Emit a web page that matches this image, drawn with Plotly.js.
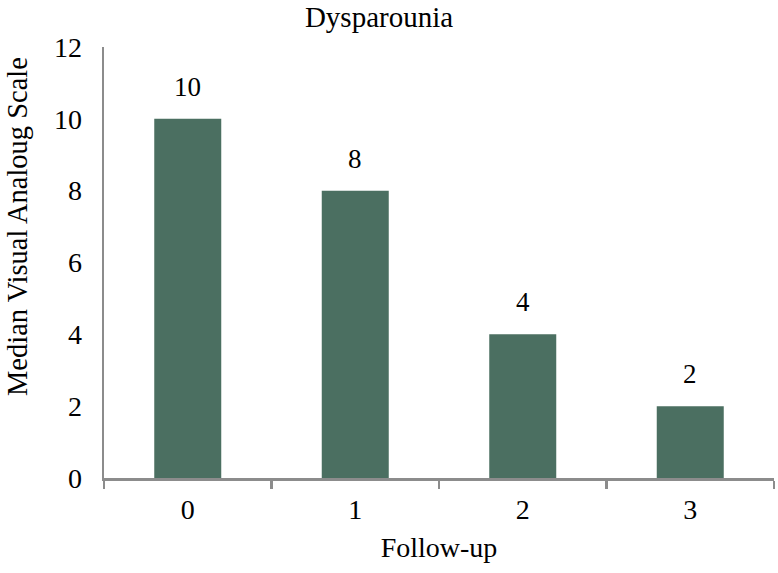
<!DOCTYPE html>
<html>
<head>
<meta charset="utf-8">
<script src="https://cdn.plot.ly/plotly-3.0.1.min.js"></script>
<style>html,body{margin:0;padding:0;background:#fff}#chart{width:778px;height:573px}</style>
</head>
<body>
<div id="chart"></div>
<script>
const categories = ["0", "1", "2", "3"];
const values = [10, 8, 4, 2];
const yTicks = [0, 2, 4, 6, 8, 10, 12];
const chartTitle = "Dysparounia";
const xTitle = "Follow-up";
const yTitle = "Median Visual Analoug Scale";

const font = "Liberation Serif";
const W = 778, H = 573;
const M = {l: 104, r: 4, t: 47, b: 95};
const pw = W - M.l - M.r, ph = H - M.t - M.b;

const trace = {
  type: "bar",
  x: categories,
  y: values,
  width: 0.4,
  marker: {color: "#4b6f61", line: {width: 0}},
  hoverinfo: "skip"
};
const annotations = categories.map((c, i) => ({
  x: c, y: values[i], xref: "x", yref: "y",
  text: String(values[i]), showarrow: false,
  yanchor: "bottom", yshift: 15,
  font: {family: font, size: 27, color: "#000"}
}));
annotations.push({
  text: yTitle, textangle: -90, showarrow: false,
  xref: "paper", yref: "paper",
  x: (17 - M.l) / pw, y: (H - M.b - 227) / ph,
  xanchor: "center", yanchor: "middle",
  font: {family: font, size: 28.5, color: "#000"}
});
const layout = {
  width: W, height: H,
  margin: M,
  paper_bgcolor: "#fff", plot_bgcolor: "#fff",
  showlegend: false,
  font: {family: font, color: "#000"},
  title: {text: chartTitle, font: {family: font, size: 29, color: "#000"},
          xref: "container", x: 379 / W, xanchor: "center",
          yref: "paper", y: 1, yanchor: "bottom", pad: {t: 0, b: 20}},
  xaxis: {
    type: "category",
    showline: true, linecolor: "#8c8c8c", linewidth: 2.5,
    ticks: "outside", tickson: "boundaries", ticklen: 8, tickwidth: 2.5, tickcolor: "#8c8c8c",
    showgrid: false, zeroline: false,
    tickfont: {family: font, size: 28, color: "#000"},
    ticklabelstandoff: 5,
    title: {text: xTitle, font: {family: font, size: 28, color: "#000"}, standoff: 14}
  },
  yaxis: {
    range: [0, 12],
    tickvals: yTicks,
    showline: true, linecolor: "#8c8c8c", linewidth: 2.5,
    ticks: "", showgrid: false, zeroline: false,
    tickfont: {family: font, size: 28, color: "#000"},
    ticklabelstandoff: 14
  },
  annotations: annotations
};
Plotly.newPlot("chart", [trace], layout, {displayModeBar: false, staticPlot: true});
</script>
</body>
</html>
